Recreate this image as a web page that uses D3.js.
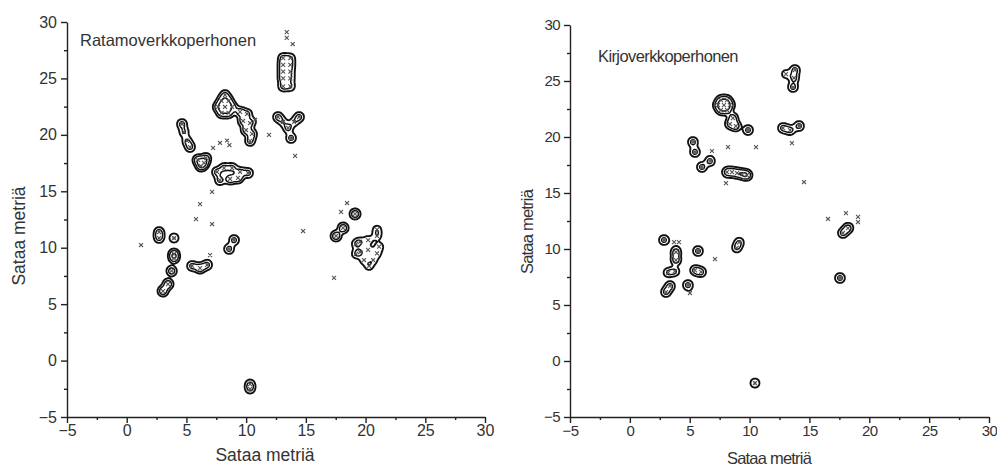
<!DOCTYPE html>
<html>
<head>
<meta charset="utf-8">
<script src="https://cdn.jsdelivr.net/npm/d3@7"></script>
<style>
body { margin: 0; background: #fff; }
svg text { font-family: "Liberation Sans", Arial, sans-serif; fill: #333; }
</style>
</head>
<body>
<svg id="chart" width="997" height="469"></svg>
<script>
var xTicks = [-5, 0, 5, 10, 15, 20, 25, 30];
var yTicks = [-5, 0, 5, 10, 15, 20, 25, 30];
var minorTicks = [-2.5, 2.5, 7.5, 12.5, 17.5, 22.5, 27.5];
var axisTitle = "Sataa metriä";

// havaintopaikat: [x, y, havaintojen määrä]
var ratamo = [
    [13.1, 26.8, 6], [13.7, 26.8, 5], [13.1, 26.2, 7], [13.7, 26.2, 5], [13.1, 25.6, 7],
    [13.7, 25.6, 4], [13.1, 25.0, 7], [13.7, 25.0, 4], [13.1, 24.3, 6], [13.7, 24.3, 5],
    [13.4, 29.1, 1], [13.4, 28.6, 1], [13.9, 28.05, 1],
    [12.67, 21.58, 6], [14.43, 21.58, 6], [13.09, 21.14, 4], [14.01, 21.14, 4], [13.51, 20.61, 6], [13.76, 19.72, 6],
    [11.92, 19.99, 1], [14.1, 18.13, 1], [10.75, 21.32, 1],
    [8.23, 22.47, 8], [8.82, 22.47, 7], [8.53, 23.0, 7], [7.94, 23.0, 7], [7.65, 22.47, 7], [7.94, 21.94, 7],
    [8.53, 21.94, 7], [8.23, 23.53, 6],
    [9.49, 22.03, 7], [10.08, 21.85, 6], [9.74, 21.23, 7], [10.33, 21.05, 6], [9.99, 20.43, 7], [10.49, 20.08, 6], [10.33, 19.46, 6],
    [4.63, 20.96, 6], [4.8, 20.25, 5], [5.05, 19.46, 5], [5.3, 18.92, 6],
    [5.97, 17.77, 8], [6.47, 17.51, 8], [6.22, 17.24, 8], [6.64, 17.95, 6],
    [7.23, 18.84, 1], [7.81, 19.28, 1], [8.4, 19.5, 1], [8.6, 19.1, 1],
    [7.56, 16.71, 6], [8.15, 17.06, 6], [8.82, 17.06, 6], [9.49, 16.71, 6], [10.16, 16.62, 6],
    [7.81, 15.99, 6], [8.65, 16.09, 8], [9.32, 16.18, 8],
    [7.15, 14.94, 1], [6.14, 13.87, 1], [5.8, 12.54, 1], [7.15, 12.1, 1], [1.2, 10.24, 1], [6.98, 9.35, 1],
    [14.77, 11.48, 1], [17.36, 7.32, 1], [18.45, 13.96, 1], [17.95, 13.17, 1],
    [2.71, 11.39, 6], [2.71, 10.86, 6],
    [3.96, 10.86, 5],
    [3.96, 9.44, 8], [3.96, 9.05, 6],
    [3.76, 7.94, 7],
    [3.46, 6.78, 8], [3.04, 6.16, 8],
    [5.47, 8.38, 6], [6.14, 8.2, 8], [6.73, 8.47, 6],
    [8.99, 10.68, 6], [8.57, 9.89, 6],
    [19.12, 12.99, 8],
    [18.12, 11.75, 8], [17.53, 11.04, 8],
    [19.54, 10.51, 4], [20.21, 10.68, 4], [20.96, 11.04, 4], [20.96, 11.6, 4], [21.13, 10.1, 4], [19.54, 9.62, 4],
    [20.21, 9.8, 4], [20.96, 9.5, 4], [19.87, 8.91, 4], [20.63, 8.91, 4], [20.29, 8.38, 4],
    [19.2, 10.33, 4], [19.2, 9.45, 4],
    [10.33, -2.08, 5], [10.33, -2.52, 5]
];

var kirjo = [
    [13.79, 25.98, 6], [13.71, 25.27, 6], [13.63, 24.46, 6], [13.04, 25.62, 4],
    [7.86, 22.85, 7], [8.36, 22.85, 6], [8.11, 23.3, 6], [7.61, 23.3, 6], [7.36, 22.85, 6], [7.61, 22.41, 6],
    [8.11, 22.41, 6], [8.61, 21.69, 7], [8.86, 20.98, 7], [8.36, 21.16, 6],
    [9.87, 20.62, 6],
    [12.79, 20.8, 6], [13.38, 20.62, 6], [14.13, 20.98, 6],
    [13.54, 19.46, 1], [8.2, 19.1, 1], [10.54, 19.1, 1], [6.86, 18.75, 1], [8.03, 15.89, 1], [14.55, 15.98, 1],
    [5.27, 19.55, 6], [5.44, 18.66, 6],
    [6.02, 17.32, 6], [6.69, 17.85, 6],
    [8.11, 16.87, 6], [8.53, 16.87, 5], [8.95, 16.78, 6], [9.37, 16.69, 6], [9.78, 16.6, 8],
    [16.55, 12.68, 1], [18.05, 13.21, 1], [19.06, 12.86, 1], [19.06, 12.41, 1],
    [17.8, 11.43, 6], [18.22, 11.87, 7],
    [17.55, 7.41, 6],
    [10.45, -1.97, 5],
    [2.85, 10.8, 6],
    [3.69, 10.62, 1], [4.1, 10.62, 1],
    [3.85, 9.73, 7], [3.85, 9.01, 7],
    [5.69, 9.82, 6],
    [7.11, 9.1, 1],
    [9.13, 10.6, 5], [8.93, 10.1, 5],
    [3.2, 7.9, 5], [3.75, 8.0, 5],
    [5.45, 8.1, 6], [5.95, 7.95, 6],
    [3.35, 6.69, 6], [3.02, 6.16, 6],
    [4.85, 6.78, 6],
    [5.02, 6.07, 1]
];

var panels = [
    {title: "Ratamoverkkoperhonen", data: ratamo, left: 67, right: 485, top: 22, bottom: 417,
     font: 16, spacing: 0, titleX: 80, titleY: 46, xTitle: [265, 461], yTitle: [25, 236], titleSize: 17.5},
    {title: "Kirjoverkkoperhonen", data: kirjo, left: 570, right: 989, top: 25, bottom: 417,
     font: 15, spacing: -0.6, titleX: 598, titleY: 62, xTitle: [769, 464], yTitle: [533, 232], titleSize: 16.5}
];

var svg = d3.select("#chart");
var bandwidth = 3;
var base = 1 / (2 * Math.PI * bandwidth * bandwidth);
var levels = [1.7, 4, 8].map(function (k) { return k * base; });

panels.forEach(function (p) {
    var w = p.right - p.left, h = p.bottom - p.top;
    var x = d3.scaleLinear().domain([-5, 30]).range([0, w]);
    var y = d3.scaleLinear().domain([-5, 30]).range([h, 0]);
    var g = svg.append("g").attr("transform", "translate(" + p.left + "," + p.top + ")");

    var contours = d3.contourDensity()
        .x(function (d) { return x(d[0]); })
        .y(function (d) { return y(d[1]); })
        .weight(function (d) { return d[2]; })
        .size([w, h])
        .cellSize(1)
        .bandwidth(bandwidth)
        .thresholds(levels)(p.data);

    g.append("g").selectAll("path")
        .data(contours)
        .join("path")
        .attr("d", d3.geoPath())
        .attr("fill", "none")
        .attr("stroke", "#111")
        .attr("stroke-width", function (d, i) { return i === 0 ? 1.9 : 1.5; })
        .attr("stroke-linejoin", "round");

    g.append("g").selectAll("path")
        .data(p.data)
        .join("path")
        .attr("transform", function (d) { return "translate(" + x(d[0]) + "," + y(d[1]) + ")"; })
        .attr("d", d3.symbol(d3.symbolTimes, 12))
        .attr("stroke", "#555")
        .attr("stroke-width", 1.1)
        .attr("fill", "none");

    g.append("g").attr("transform", "translate(0," + h + ")")
        .call(d3.axisBottom(x).tickValues(xTicks).tickSize(6).tickSizeOuter(0).tickPadding(2));
    g.append("g").attr("transform", "translate(0," + h + ")")
        .call(d3.axisBottom(x).tickValues(minorTicks).tickSize(3).tickFormat(""))
        .select(".domain").remove();
    g.append("g")
        .call(d3.axisLeft(y).tickValues(yTicks).tickSize(6).tickSizeOuter(0).tickPadding(4));
    g.append("g")
        .call(d3.axisLeft(y).tickValues(minorTicks).tickSize(3).tickFormat(""))
        .select(".domain").remove();

    g.selectAll(".domain, .tick line").attr("stroke", "#222").attr("stroke-width", 1.4);
    g.selectAll(".tick text")
        .attr("fill", "#333")
        .style("font-size", p.font + "px")
        .style("letter-spacing", p.spacing + "px");

    svg.append("text")
        .attr("x", p.titleX).attr("y", p.titleY)
        .style("font-size", "16.5px")
        .style("letter-spacing", p.spacing + "px")
        .text(p.title);

    svg.append("text")
        .attr("x", p.xTitle[0]).attr("y", p.xTitle[1])
        .attr("text-anchor", "middle")
        .style("font-size", p.titleSize + "px")
        .style("letter-spacing", p.spacing * 1.3 + "px")
        .text(axisTitle);

    svg.append("text")
        .attr("transform", "translate(" + p.yTitle[0] + "," + p.yTitle[1] + ") rotate(-90)")
        .attr("text-anchor", "middle")
        .style("font-size", p.titleSize + "px")
        .style("letter-spacing", p.spacing * 1.3 + "px")
        .text(axisTitle);
});
</script>
</body>
</html>
